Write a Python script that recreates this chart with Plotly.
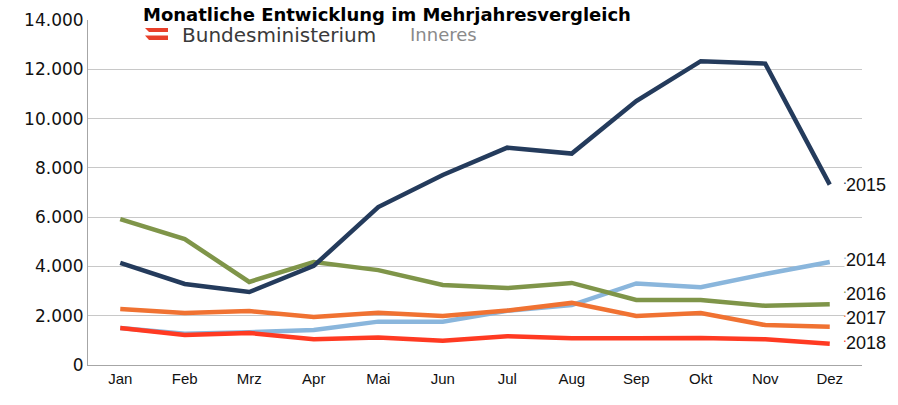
import plotly.graph_objects as go

months = ["Jan", "Feb", "Mrz", "Apr", "Mai", "Jun", "Jul", "Aug", "Sep", "Okt", "Nov", "Dez"]
y2015 = [4140, 3290, 2960, 4020, 6410, 7710, 8820, 8580, 10710, 12330, 12230, 7320]
y2014 = [1500, 1270, 1330, 1420, 1760, 1760, 2200, 2430, 3310, 3160, 3690, 4180]
y2016 = [5920, 5110, 3370, 4180, 3850, 3250, 3120, 3330, 2640, 2640, 2400, 2470]
y2017 = [2270, 2110, 2190, 1950, 2120, 1990, 2210, 2520, 1990, 2110, 1620, 1550]
y2018 = [1500, 1220, 1300, 1050, 1120, 980, 1170, 1090, 1090, 1100, 1040, 860]
series_names = ["2015", "2014", "2016", "2017", "2018"]
series_vals = [y2015, y2014, y2016, y2017, y2018]
colors = ["#243b5c", "#8ab6dc", "#7f9549", "#f07232", "#ff3a22"]
label_shift = [0, 2, 10, 9, 1]
tick_vals = [0, 2000, 4000, 6000, 8000, 10000, 12000, 14000]
tick_text = ["0", "2.000", "4.000", "6.000", "8.000", "10.000", "12.000", "14.000"]

W, H = 898, 405
# desired plot area in page pixels: x 88..862, y 20..365
L, T = 88, 20
R = W - 862
B = H - 365
pw, ph = W - L - R, H - T - B

def px(x):
    return (x - L) / pw

def py(y):
    return (H - B - y) / ph

fig = go.Figure()
order = [1, 2, 3, 4, 0]
for i in order:
    fig.add_trace(go.Scatter(x=months, y=series_vals[i], name=series_names[i], mode="lines",
                             line=dict(color=colors[i], width=4.5), showlegend=False,
                             hoverinfo="skip"))

for i, name in enumerate(series_names):
    fig.add_annotation(x=months[-1], y=series_vals[i][-1], xref="x", yref="y",
                       text=name, showarrow=False, xanchor="left", yanchor="middle",
                       xshift=14, yshift=label_shift[i], bgcolor="white", borderpad=1,
                       font=dict(family="Liberation Sans, Arial", size=18, color="#111111"))
    fig.add_annotation(x=months[-1], y=series_vals[i][-1], xref="x", yref="y",
                       text="·", showarrow=False, xanchor="left", yanchor="middle",
                       xshift=11, yshift=label_shift[i] + 1,
                       font=dict(family="DejaVu Sans", size=12, color=colors[i]))

# title box
fig.add_shape(type="rect", xref="paper", yref="paper", x0=px(133), x1=px(645), y0=py(48), y1=py(2),
              fillcolor="white", line=dict(width=0), layer="between")
fig.add_annotation(x=px(142), y=py(15), xref="paper", yref="paper",
                   text="<b>Monatliche Entwicklung im Mehrjahresvergleich</b>", showarrow=False,
                   xanchor="left", yanchor="middle", borderpad=0,
                   font=dict(family="DejaVu Sans, Liberation Sans, Arial", size=18, color="#000000"))
# logo stripes
for y0, y1 in [(28, 32), (35.5, 40)]:
    fig.add_shape(type="path", xref="paper", yref="paper",
                  path=f"M {px(145)},{py(y0)} L {px(168)},{py(y0)} L {px(168)},{py(y1)} L {px(149)},{py(y1)} Z",
                  fillcolor="#e8402a", line=dict(width=0), layer="above")
fig.add_annotation(x=px(181), y=py(35), xref="paper", yref="paper",
                   text="Bundesministerium", showarrow=False, xanchor="left", yanchor="middle",
                   borderpad=0,
                   font=dict(family="DejaVu Sans, Open Sans", size=20, color="#3a3a3a"))
fig.add_annotation(x=px(409), y=py(34), xref="paper", yref="paper",
                   text="Inneres", showarrow=False, xanchor="left", yanchor="middle",
                   borderpad=0,
                   font=dict(family="DejaVu Sans, Open Sans", size=18, color="#8a8a8a"))

fig.update_layout(
    width=W, height=H, margin=dict(l=L, r=R, t=T, b=B, autoexpand=False),
    plot_bgcolor="white", paper_bgcolor="white",
    xaxis=dict(type="category", range=[-0.5, 11.5], showgrid=False, ticks="", automargin=False,
               showline=True, linecolor="#a6a6a6", linewidth=1,
               tickfont=dict(family="Liberation Sans, Arial", size=15, color="#111111")),
    yaxis=dict(range=[0, 14000], tickvals=tick_vals, ticktext=tick_text, showgrid=True,
               gridcolor="#c8c8c8", gridwidth=1.3, zeroline=False, showline=True, automargin=False,
               linecolor="#a6a6a6", linewidth=1, ticks="", ticklen=0,
               tickfont=dict(family="DejaVu Sans, Liberation Sans, Arial", size=17, color="#111111")),
)
fig.write_html("out.html", config={"displayModeBar": False},
               post_script="document.body.style.margin='0';")
